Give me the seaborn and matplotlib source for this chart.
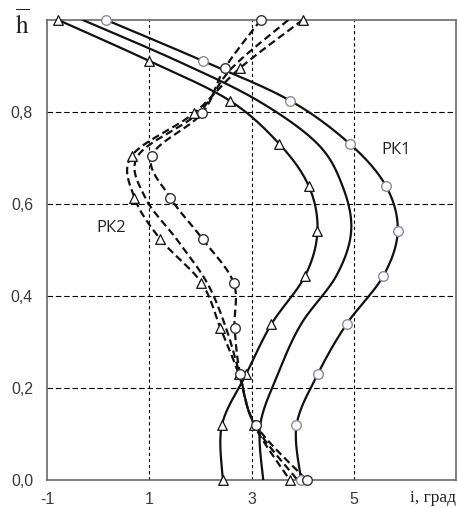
import numpy as np
import pandas as pd
import matplotlib
matplotlib.use("Agg")
import matplotlib.pyplot as plt
import seaborn as sns

# ---- data ----
rk1_h = [1.0, 0.911, 0.825, 0.731, 0.639, 0.542, 0.444, 0.339, 0.231, 0.119, 0.0]
rk1_tri = [-0.78, 1.00, 2.57, 3.54, 4.12, 4.29, 4.05, 3.39, 2.90, 2.42, 2.44]
rk1_mid = [-0.30, 1.55, 3.12, 4.29, 4.78, 4.95, 4.66, 3.97, 3.52, 3.17, 3.23]
rk1_circ = [0.16, 2.05, 3.75, 4.92, 5.63, 5.86, 5.58, 4.86, 4.30, 3.88, 3.97]

rk2_h = [1.0, 0.896, 0.797, 0.705, 0.614, 0.523, 0.429, 0.331, 0.23, 0.12, 0.0]
rk2_tri = [4.00, 2.78, 1.87, 0.66, 0.71, 1.22, 2.02, 2.39, 2.75, 3.05, 3.75]
rk2_mid = [3.72, 2.62, 1.95, 0.78, 0.92, 1.54, 2.13, 2.50, 2.77, 3.06, 3.90]
rk2_circ = [3.18, 2.48, 2.03, 1.05, 1.41, 2.05, 2.65, 2.67, 2.78, 3.08, 4.08]

x_ticks = [-1, 1, 3, 5]
y_ticks = [0.0, 0.2, 0.4, 0.6, 0.8]
y_tick_labels = ["0,0", "0,2", "0,4", "0,6", "0,8"]


def smooth(xs, ys, n=24):
    """Excel-style smoothed line (cubic Bezier through the points)."""
    P = np.column_stack([xs, ys]).astype(float)
    out = [P[0]]
    m = len(P)
    for i in range(m - 1):
        p0 = P[i - 1] if i > 0 else P[i]
        p1, p2 = P[i], P[i + 1]
        p3 = P[i + 2] if i + 2 < m else P[i + 1]
        c1 = p1 + (p2 - p0) / 6.0
        c2 = p2 - (p3 - p1) / 6.0
        t = np.linspace(0, 1, n)[1:, None]
        seg = ((1 - t) ** 3) * p1 + 3 * ((1 - t) ** 2) * t * c1 + 3 * (1 - t) * t ** 2 * c2 + t ** 3 * p2
        out.extend(seg)
    out = np.array(out)
    return out[:, 0], out[:, 1]


sns.set_style("white")
plt.rcParams["font.family"] = ["Liberation Sans", "DejaVu Sans"]

fig = plt.figure(figsize=(4.58, 5.08), dpi=100)
ax = fig.add_axes([47 / 458, 28 / 508, 409 / 458, 460 / 508])

line_col = "#111111"
solid_ls = "-"
dash_ls = (0, (3.4, 1.8))

for xs, hs, ls in [
    (rk1_tri, rk1_h, solid_ls), (rk1_mid, rk1_h, solid_ls), (rk1_circ, rk1_h, solid_ls),
    (rk2_tri, rk2_h, dash_ls), (rk2_mid, rk2_h, dash_ls), (rk2_circ, rk2_h, dash_ls),
]:
    sx, sy = smooth(xs, hs)
    df = pd.DataFrame({"x": sx, "h": sy})
    sns.lineplot(data=df, x="x", y="h", sort=False, estimator=None, ax=ax,
                 color=line_col, linewidth=1.6, linestyle=ls, zorder=3)

# markers
sns.scatterplot(x=rk1_tri, y=rk1_h, marker="^", s=48, facecolor="white",
                edgecolor="#111111", linewidth=0.9, ax=ax, zorder=5, clip_on=False)
sns.scatterplot(x=rk1_circ, y=rk1_h, marker="o", s=48, facecolor="white",
                edgecolor="#8a8aa0", linewidth=1.0, ax=ax, zorder=5, clip_on=False)
sns.scatterplot(x=rk2_tri, y=rk2_h, marker="^", s=48, facecolor="white",
                edgecolor="#111111", linewidth=0.9, ax=ax, zorder=5, clip_on=False)
sns.scatterplot(x=rk2_circ, y=rk2_h, marker="o", s=48, facecolor="white",
                edgecolor="#333333", linewidth=1.0, ax=ax, zorder=5, clip_on=False)

ax.set_xlim(-1, 7)
ax.set_ylim(0, 1.0)
ax.set_xticks(x_ticks)
ax.set_xticklabels([str(v) for v in x_ticks])
ax.set_yticks(y_ticks)
ax.set_yticklabels(y_tick_labels)
ax.tick_params(axis="both", length=0, labelsize=11.5, colors="#3a3a3a")
ax.tick_params(axis="y", pad=10)
ax.tick_params(axis="x", pad=9)
ax.set_xlabel("")
ax.set_ylabel("")

for v in [1, 3, 5]:
    ax.axvline(v, color="black", lw=0.8, ls=(0, (3, 2.5)), zorder=1)
for v in [0.2, 0.4, 0.6, 0.8]:
    ax.axhline(v, color="black", lw=0.8, ls=(0, (5, 2.5)), zorder=1)

for s in ax.spines.values():
    s.set_visible(True)
    s.set_color("#6a6a6a")
    s.set_linewidth(1.2)

ax.text(5.82, 0.717, "РК1", fontsize=12, family=["Open Sans", "DejaVu Sans"],
        color="#222222", ha="center", va="center")
ax.text(0.25, 0.547, "РК2", fontsize=12, family=["Open Sans", "DejaVu Sans"],
        color="#222222", ha="center", va="center")

fig.text(456 / 458, 1 - 498 / 508, "i, град", fontsize=12.5,
         family=["Liberation Serif", "DejaVu Serif"], color="#222222",
         ha="right", va="center")
fig.text(22 / 458, 1 - 24 / 508, r"$\overline{\mathrm{h}}$", fontsize=18,
         math_fontfamily="stix", color="#222222", ha="center", va="center")

fig.savefig("out.png", dpi=100)
